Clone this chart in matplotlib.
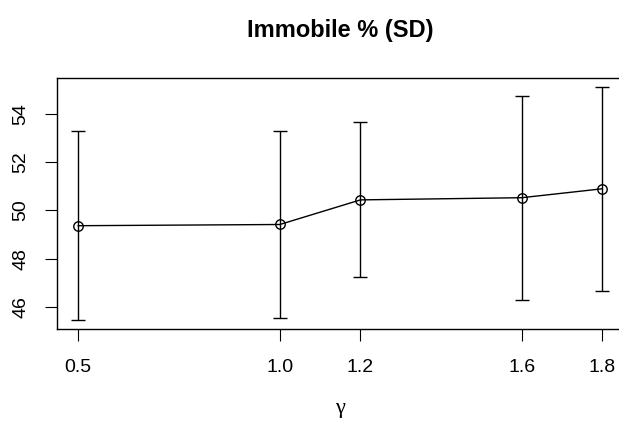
import matplotlib.pyplot as plt
import numpy as np

# gamma values and immobile percentage (mean, SD)
gamma = [0.5, 1.0, 1.2, 1.6, 1.8]
immobile_mean = [49.37, 49.42, 50.44, 50.53, 50.90]
immobile_sd = [3.91, 3.89, 3.21, 4.23, 4.22]
x_ticks = [0.5, 1.0, 1.2, 1.6, 1.8]
x_tick_labels = ["0.5", "1.0", "1.2", "1.6", "1.8"]
y_ticks = [46, 48, 50, 52, 54]

plt.rcParams['font.family'] = ['Liberation Sans', 'DejaVu Sans']

fig = plt.figure(figsize=(6.19, 4.21), dpi=100)
W, H = 619, 421
# plot box in pixels (right edge runs past the figure)
left, right, top, bottom = 57.3, 623.3, 77.6, 329.4
ax = fig.add_axes([left / W, 1 - bottom / H, (right - left) / W, (bottom - top) / H])

mean = np.array(immobile_mean)
sd = np.array(immobile_sd)

ax.errorbar(gamma, mean, yerr=sd, fmt='none', ecolor='black',
            elinewidth=1.0, capsize=4.8, capthick=1.0)
ax.plot(gamma, mean, color='black', linewidth=1.0, marker='o',
        markersize=6.8, markerfacecolor='none', markeredgewidth=1.0)

# R-style 4% padding around the data range
lo = (mean - sd).min()
hi = (mean + sd).max()
ypad = 0.04 * (hi - lo)
ax.set_ylim(lo - ypad, hi + ypad)
xpad = 0.04 * (max(gamma) - min(gamma))
ax.set_xlim(min(gamma) - xpad, max(gamma) + xpad)

ax.set_xticks(x_ticks)
ax.set_xticklabels(x_tick_labels)
ax.set_yticks(y_ticks)
ax.set_yticklabels([str(v) for v in y_ticks], rotation=90, va='center')

ax.tick_params(axis='both', direction='out', length=8.6, width=0.8,
               labelsize=14, color='black')
ax.tick_params(axis='x', pad=13)
ax.tick_params(axis='y', pad=11.5)
for s in ax.spines.values():
    s.set_linewidth(1.0)

fig.text(340 / W, 1 - 31 / H, "Immobile % (SD)", ha='center', va='center',
         fontsize=17, fontweight='bold')
fig.text(340 / W, 1 - 409 / H, "\u03b3", ha='center', va='center',
         fontsize=16, family=['Liberation Serif', 'DejaVu Serif'])

fig.savefig("out.png", dpi=100)
